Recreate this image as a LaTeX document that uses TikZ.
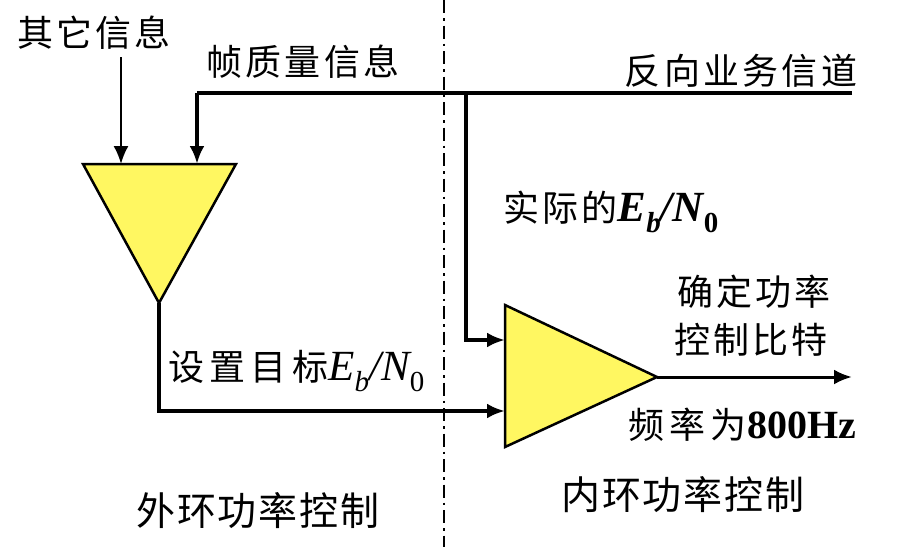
\documentclass[tikz,border=0pt]{standalone}
\usepackage{fontspec}
\setmainfont{Liberation Serif}
\newfontfamily\cjk[LetterSpace=9]{Noto Sans CJK SC}
\newfontfamily\cjkw[LetterSpace=15]{Noto Sans CJK SC}
\newfontfamily\cjkb[LetterSpace=5]{Noto Sans CJK SC}
\usetikzlibrary{arrows.meta}
\newcommand{\EbNzero}[1]{{\rmfamily\itshape #1\fontsize{43}{46}\selectfont E\raisebox{-0.25em}{\fontsize{29}{29}\selectfont b}/N\raisebox{-0.25em}{\fontsize{29}{29}\selectfont\upshape 0}}}
\begin{document}
\begin{tikzpicture}[x=1pt,y=-1pt,
  lbl/.style={inner sep=0pt, font=\cjk\fontsize{36}{40}\selectfont},
  wlbl/.style={inner sep=0pt, font=\cjkw\fontsize{36}{40}\selectfont},
  big/.style={inner sep=0pt, font=\cjkb\fontsize{39}{42}\selectfont},
  wire/.style={line width=4.5pt},
  thinwire/.style={line width=2pt},
  tip/.style={-{Latex[length=18pt,width=15pt]}},
  amp/.style={fill=yellow!62, draw=black, line width=2.5pt, line join=miter},
  divider/.style={line width=2.2pt, dash pattern=on 13pt off 5pt on 2.5pt off 5pt}]
\useasboundingbox[fill=white] (0,0) rectangle (903,547);

% divider
\coordinate (dtop) at (444,0);
\coordinate (dbot) at (444,547);
\draw[divider] (dtop) -- (dbot);

% outer-loop triangle (points down)
\coordinate (t1a) at (83,164);
\coordinate (t1b) at (236,164);
\coordinate (t1c) at (159,303);
\draw[amp] (t1a) -- (t1b) -- (t1c) -- cycle;
\coordinate (in1) at (121,164);
\coordinate (in2) at (197,164);

% inner-loop triangle (points right)
\coordinate (t2a) at (505,305);
\coordinate (t2b) at (505,447);
\coordinate (t2c) at (657,377);
\draw[amp] (t2a) -- (t2b) -- (t2c) -- cycle;
\coordinate (inA) at (505,340);
\coordinate (inB) at (505,411);

% labels
\node[lbl] (other) at (94,33) {其它信息};
\node[lbl] (frame) at (303,62) {帧质量信息};
\node[lbl] (rev) at (741,71) {反向业务信道};
\node[lbl, anchor=west] (actual) at (503,212) {实际的\EbNzero{\bfseries}};
\node[wlbl, anchor=west] (target) at (168,371) {设置目标\EbNzero{}};
\node[lbl] (det1) at (754,292) {确定功率};
\node[lbl] (det2) at (751,340) {控制比特};
\node[wlbl, anchor=west] (freq) at (628,425) {频率为{\rmfamily\bfseries\fontsize{40}{42}\selectfont 800Hz}};
\node[big] (outer) at (258,511) {外环功率控制};
\node[big] (inner) at (683,495) {内环功率控制};

% connectors
\coordinate (otop) at (121,57);
\draw[thinwire, tip] (otop) -- (in1);

\coordinate (revend) at (852,93);
\coordinate (fcorner) at (197,93);
\coordinate (split) at (466,93);
\draw[wire] (revend) -- (fcorner);
\draw[wire, tip] (fcorner) -- (in2);
\draw[wire, tip] (split) |- (inA);
\draw[wire, tip] (t1c) |- (inB);

\coordinate (outend) at (852,377);
\draw[line width=3pt, tip] (t2c) -- (outend);
\end{tikzpicture}
\end{document}
